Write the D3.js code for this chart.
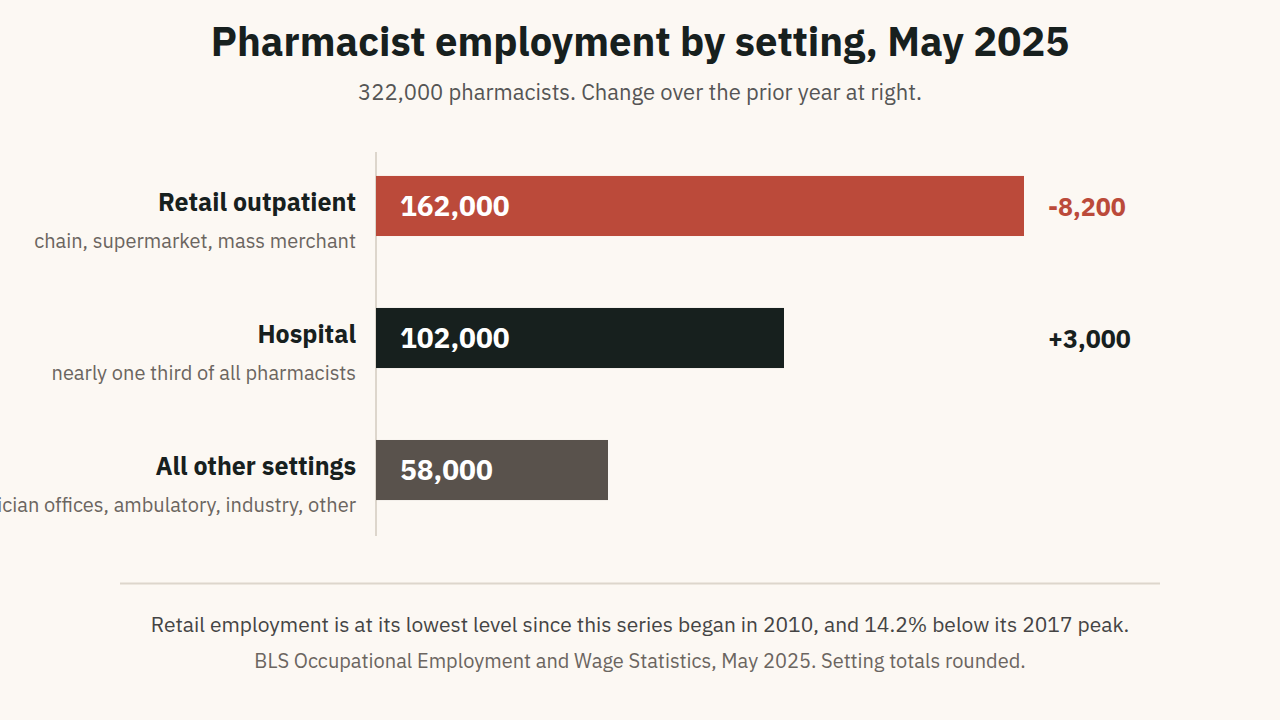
<!DOCTYPE html><html><head><meta charset="utf-8">
<script src="https://cdn.jsdelivr.net/npm/d3@7"></script>
<style>body{margin:0;background:#fcf8f3;}svg{display:block;font-family:"IBM Plex Sans","Noto Sans",sans-serif;}</style></head><body>
<svg id="c" width="1280" height="720"></svg>
<script>
const categories=["Retail outpatient","Hospital","All other settings"];
const sublabels=["chain, supermarket, mass merchant","nearly one third of all pharmacists","physician offices, ambulatory, industry, other"];
const values=[162000,102000,58000];
const changes=[-8200,3000,null];
const colors=["#bb4a3a","#17201e","#59524c"];
const svg=d3.select("#c");
svg.append("text").attr("x",640).attr("y",56).attr("text-anchor","middle").attr("font-size",40).attr("font-weight",700).attr("fill","#17201e").text("Pharmacist employment by setting, May 2025");
svg.append("text").attr("x",640).attr("y",100).attr("text-anchor","middle").attr("font-size",22).attr("fill","#555").text("322,000 pharmacists. Change over the prior year at right.");
const x=d3.scaleLinear().domain([0,162000]).range([376,1024]);
const yy=d3.scaleBand().domain(categories).range([104,572]).padding(0.545);
svg.append("line").attr("x1",376).attr("x2",376).attr("y1",152).attr("y2",536).attr("stroke","#ddd6cc").attr("stroke-width",2);
const fmt=d3.format(",");
categories.forEach((c,i)=>{
 const top=yy(c), h=yy.bandwidth(), m=top+h/2;
 svg.append("rect").attr("x",x(0)).attr("y",top).attr("width",x(values[i])-x(0)).attr("height",h).attr("fill",colors[i]);
 svg.append("text").attr("x",x(0)+24).attr("y",m+10).attr("font-size",28).attr("font-weight",700).attr("fill","#fff").text(fmt(values[i]));
 svg.append("text").attr("x",356).attr("y",m+5).attr("text-anchor","end").attr("font-size",25).attr("font-weight",700).attr("fill","#17201e").text(c);
 svg.append("text").attr("x",356).attr("y",m+42).attr("text-anchor","end").attr("font-size",20).attr("fill","#6b6560").text(sublabels[i]);
 if(changes[i]!=null) svg.append("text").attr("x",1048).attr("y",m+10).attr("font-size",25).attr("font-weight",700).attr("fill",changes[i]<0?"#bb4a3a":"#17201e").text((changes[i]>0?"+":"-")+fmt(Math.abs(changes[i])));
});
svg.append("line").attr("x1",120).attr("x2",1160).attr("y1",583.5).attr("y2",583.5).attr("stroke","#ddd6cc").attr("stroke-width",2);
svg.append("text").attr("x",640).attr("y",632).attr("text-anchor","middle").attr("font-size",21).attr("fill","#444").text("Retail employment is at its lowest level since this series began in 2010, and 14.2% below its 2017 peak.");
svg.append("text").attr("x",640).attr("y",668).attr("text-anchor","middle").attr("font-size",20).attr("fill","#6b6560").text("BLS Occupational Employment and Wage Statistics, May 2025. Setting totals rounded.");
</script></body></html>
